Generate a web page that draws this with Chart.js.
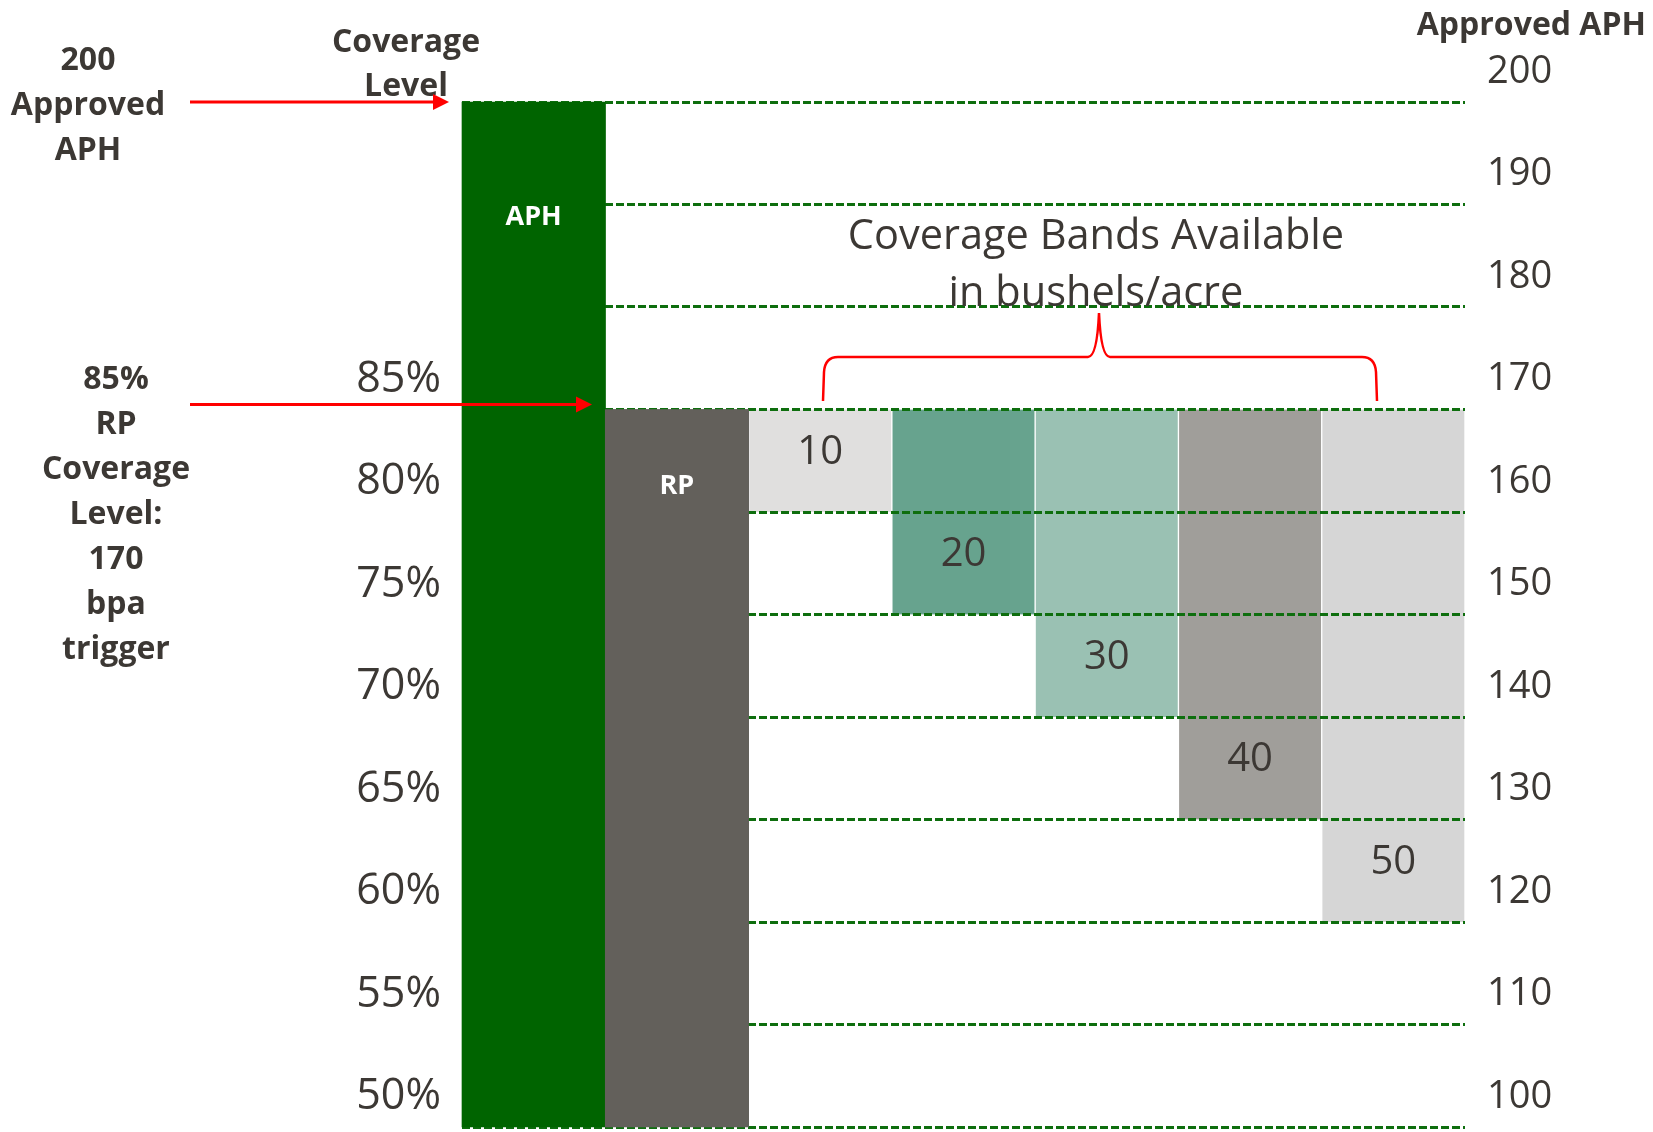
<!DOCTYPE html>
<html>
<head>
<meta charset="utf-8">
<title>Coverage Bands</title>
<script src="https://cdn.jsdelivr.net/npm/chart.js@4.4.1/dist/chart.umd.min.js"></script>
<style>
  body { margin: 0; background: #fff; }
  canvas { display: block; }
</style>
</head>
<body>
<canvas id="bandChart" width="1653" height="1132"></canvas>
<script>
// ---------------- data ----------------
const categories = ['APH', 'RP', '10', '20', '30', '40', '50'];
const approvedAPH = 200;
const rpTrigger = 170;     // 85% RP coverage level
const axisFloor = 100;
const bandSizes = [10, 20, 30, 40, 50];   // bushels/acre
const mainColors = ['#006400', '#63605B'];
const bandColors = ['#E0DFDE', '#67A38E', '#9AC1B3', '#A09E9A', '#D6D6D6'];

const textColor = '#3c3834';
const gridColor = '#0e6e0e';

// APH bar and RP bar, floating from the axis floor
var mainBars = [[axisFloor, approvedAPH], [axisFloor, rpTrigger], null, null, null, null, null];
// each band hangs down from the RP trigger
var bandBars = [null, null];
for (let i = 0; i < bandSizes.length; i++) {
  bandBars.push([rpTrigger - bandSizes[i], rpTrigger]);
}

function arrow(ctx, x1, x2, y) {
  ctx.beginPath();
  ctx.moveTo(x1, y);
  ctx.lineTo(x2 - 14, y);
  ctx.stroke();
  ctx.beginPath();
  ctx.moveTo(x2, y);
  ctx.lineTo(x2 - 16, y - 8);
  ctx.lineTo(x2 - 16, y + 8);
  ctx.closePath();
  ctx.fill();
}

function textLines(ctx, lines, x, y0, step) {
  for (let i = 0; i < lines.length; i++) {
    ctx.fillText(lines[i], x, y0 + i * step);
  }
}

const overlay = {
  id: 'overlay',
  afterDraw(chart) {
    const ctx = chart.ctx;
    const ys = chart.scales.y;

    // APH / RP bars sit on top of the dashed grid
    chart.getDatasetMeta(1).controller.draw();

    ctx.save();
    ctx.textBaseline = 'middle';
    ctx.textAlign = 'center';

    // labels inside the bars
    const mainMeta = chart.getDatasetMeta(1);
    ctx.fillStyle = '#ffffff';
    ctx.font = "bold 27px 'Open Sans'";
    ctx.fillText('APH', mainMeta.data[0].x, 217);
    ctx.fillText('RP', mainMeta.data[1].x, 486);

    const bandMeta = chart.getDatasetMeta(0);
    ctx.fillStyle = textColor;
    ctx.font = "40px 'Open Sans'";
    for (let i = 0; i < bandSizes.length; i++) {
      const bar = bandMeta.data[i + 2];
      ctx.fillText(String(bandSizes[i]), bar.x, ys.getPixelForValue(rpTrigger - bandSizes[i] + 6) + 2);
    }

    // titles and side notes
    ctx.font = "bold 32px 'Open Sans'";
    textLines(ctx, ['Coverage', 'Level'], 406, 43, 44);
    textLines(ctx, ['200', 'Approved', 'APH'], 88, 61, 45);
    textLines(ctx, ['85%', 'RP', 'Coverage', 'Level:', '170', 'bpa', 'trigger'], 116, 380, 45);
    ctx.textAlign = 'right';
    ctx.fillText('Approved APH', 1646, 26);

    ctx.textAlign = 'center';
    ctx.font = "41.5px 'Open Sans'";
    textLines(ctx, ['Coverage Bands Available', 'in bushels/acre'], 1096, 237, 57);

    // red arrows
    ctx.strokeStyle = '#ff0000';
    ctx.fillStyle = '#ff0000';
    ctx.lineWidth = 3;
    arrow(ctx, 190, 449, ys.getPixelForValue(approvedAPH));
    arrow(ctx, 190, 592, ys.getPixelForValue(rpTrigger) - 5);

    // curly brace over the bands
    ctx.lineWidth = 2.5;
    ctx.beginPath();
    ctx.moveTo(823, 401);
    ctx.lineTo(824, 372);
    ctx.quadraticCurveTo(825, 357, 838, 357);
    ctx.lineTo(1088, 357);
    ctx.quadraticCurveTo(1097, 357, 1099, 313);
    ctx.quadraticCurveTo(1101, 357, 1110, 357);
    ctx.lineTo(1362, 357);
    ctx.quadraticCurveTo(1375, 357, 1376, 372);
    ctx.lineTo(1377, 401);
    ctx.stroke();
    ctx.restore();
  }
};

Chart.defaults.font.family = "'Open Sans', sans-serif";
Chart.defaults.color = textColor;

const config = {
  type: 'bar',
  data: {
    labels: categories,
    datasets: [
      {
        label: 'Coverage bands',
        data: bandBars,
        backgroundColor: [null, null].concat(bandColors),
        borderColor: '#ffffff',
        borderWidth: { left: 1, right: 1, top: 0, bottom: 0 },
        borderSkipped: false,
        order: 1
      },
      {
        label: 'APH / RP',
        data: mainBars,
        backgroundColor: mainColors,
        borderWidth: 0,
        order: 0
      }
    ]
  },
  options: {
    responsive: false,
    animation: false,
    layout: { padding: { top: 102, bottom: 5, left: 0, right: 0 } },
    datasets: { bar: { barPercentage: 1, categoryPercentage: 1, grouped: false } },
    plugins: {
      legend: { display: false },
      tooltip: { enabled: false }
    },
    scales: {
      x: {
        display: false
      },
      y: {
        position: 'left',
        min: axisFloor,
        max: approvedAPH,
        grid: {
          z: 1,
          color: gridColor,
          lineWidth: 3,
          drawTicks: false
        },
        border: { display: false, dash: [8, 3] },
        ticks: {
          stepSize: 10,
          padding: 21,
          labelOffset: -30,
          color: textColor,
          font: { size: 43 },
          callback: (v) => v <= rpTrigger ? Math.round(v / approvedAPH * 100) + '%' : ''
        },
        afterFit: (s) => { s.width = 462; s.paddingTop = 0; s.paddingBottom = 0; }
      },
      y2: {
        position: 'right',
        min: axisFloor,
        max: approvedAPH,
        border: { display: false },
        grid: { display: false, drawTicks: false },
        ticks: {
          stepSize: 10,
          padding: 22,
          labelOffset: -30,
          color: textColor,
          font: { size: 38 }
        },
        afterFit: (s) => { s.width = 188; s.paddingTop = 0; s.paddingBottom = 0; }
      }
    }
  },
  plugins: [overlay]
};

const myChart = new Chart(document.getElementById('bandChart'), config);
</script>
</body>
</html>
